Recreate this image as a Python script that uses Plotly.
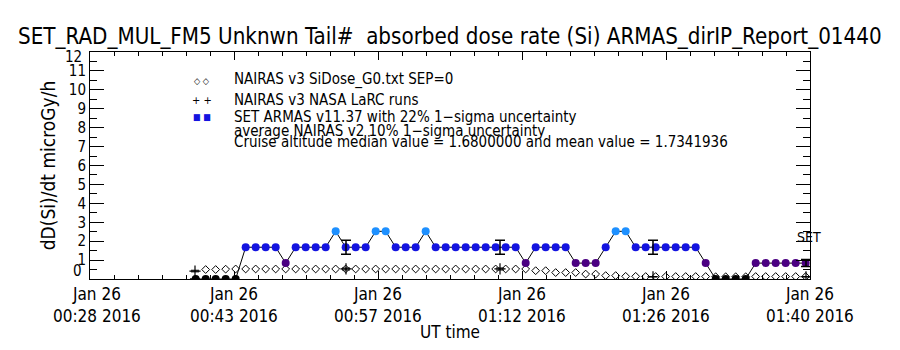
import plotly.graph_objects as go

FONT = "Liberation Sans Narrow, DejaVu Sans Condensed, Arial Narrow, sans-serif"

# ---------------- data ----------------
armas_times = [
    "00:39:24", "00:40:24", "00:41:24", "00:42:24", "00:43:24", "00:44:24", "00:45:24", "00:46:24",
    "00:47:24", "00:48:24", "00:49:24", "00:50:24", "00:51:24", "00:52:24", "00:53:24", "00:54:24",
    "00:55:24", "00:56:24", "00:57:24", "00:58:24", "00:59:24", "01:00:24", "01:01:24", "01:02:24",
    "01:03:24", "01:04:24", "01:05:24", "01:06:24", "01:07:24", "01:08:24", "01:09:24", "01:10:24",
    "01:11:24", "01:12:24", "01:13:24", "01:14:24", "01:15:24", "01:16:24", "01:17:24", "01:18:24",
    "01:19:24", "01:20:24", "01:21:24", "01:22:24", "01:23:24", "01:24:24", "01:25:24", "01:26:24",
    "01:27:24", "01:28:24", "01:29:24", "01:30:24", "01:31:24", "01:32:24", "01:33:24", "01:34:24",
    "01:35:24", "01:36:24", "01:37:24", "01:38:24", "01:39:24", "01:40:24",
]
armas_dose = [
    0, 0, 0, 0, 0, 1.68, 1.68, 1.68, 1.68, 0.84, 1.68, 1.68, 1.68, 1.68, 2.52, 1.68,
    1.68, 1.68, 2.52, 2.52, 1.68, 1.68, 1.68, 2.52, 1.68, 1.68, 1.68, 1.68, 1.68, 1.68, 1.68, 1.68,
    1.68, 0.84, 1.68, 1.68, 1.68, 1.68, 0.84, 0.84, 0.84, 1.68, 2.52, 2.52, 1.68, 1.68, 1.68, 1.68,
    1.68, 1.68, 1.68, 0.84, 0, 0, 0, 0, 0.84, 0.84, 0.84, 0.84, 0.84, 0.84,
]
# NAIRAS v3 SiDose_G0 (diamonds) at armas_times[1:]
nairas_v3 = [
    0.50, 0.50, 0.52, 0.53, 0.53, 0.53, 0.53, 0.53, 0.53, 0.53, 0.53, 0.53, 0.53, 0.53, 0.53, 0.53,
    0.53, 0.53, 0.53, 0.53, 0.53, 0.53, 0.53, 0.53, 0.53, 0.53, 0.53, 0.53, 0.53, 0.53, 0.53, 0.53,
    0.53, 0.44, 0.44, 0.34, 0.34, 0.34, 0.26, 0.26, 0.18, 0.18, 0.14, 0.14, 0.13, 0.13, 0.13, 0.13,
    0.13, 0.13, 0.13, 0.12, 0.12, 0.12, 0.12, 0.13, 0.13, 0.13, 0.13, 0.13, 0.13,
]
# NAIRAS v3 NASA LaRC runs (+) and ARMAS value at those times (error bars)
larc_times = ["00:39:20", "00:54:26", "01:09:50", "01:25:08", "01:40:26"]
larc_dose = [0.42, 0.53, 0.53, 0.12, 0.12]
armas_at_larc = [0, 1.68, 1.68, 1.68, 0.84]

x_tick_times = ["00:28:50", "00:43:14", "00:57:38", "01:12:02", "01:26:26", "01:40:50"]
x_tick_labels = ["Jan 26<br>00:28 2016", "Jan 26<br>00:43 2016", "Jan 26<br>00:57 2016",
                 "Jan 26<br>01:12 2016", "Jan 26<br>01:26 2016", "Jan 26<br>01:40 2016"]
y_ticks = list(range(0, 13))

DAY = "2016-01-26 "
def ts(t):
    return DAY + t

def color_for(v):
    if v >= 2.5:
        return "#1e90ff"
    if v >= 1.6:
        return "#1414e0"
    if v >= 0.8:
        return "#4b0082"
    return "#000000"

fig = go.Figure()

# NAIRAS diamonds
fig.add_trace(go.Scatter(
    x=[ts(t) for t in armas_times[1:]], y=nairas_v3, mode="markers",
    marker=dict(symbol="diamond-open", size=6, color="black", line=dict(width=1, color="black")),
    showlegend=False))

# LaRC runs with 10% uncertainty
fig.add_trace(go.Scatter(
    x=[ts(t) for t in larc_times], y=larc_dose, mode="markers",
    marker=dict(symbol="cross-thin", size=8, color="black", line=dict(width=1.2, color="black")),
    error_y=dict(type="percent", value=10, color="black", thickness=1, width=4),
    showlegend=False))

# ARMAS line + markers
fig.add_trace(go.Scatter(
    x=[ts(t) for t in armas_times], y=armas_dose, mode="lines+markers",
    line=dict(color="black", width=1),
    marker=dict(symbol="circle", size=8, color=[color_for(v) for v in armas_dose]),
    showlegend=False))

# ARMAS 22% error bars at LaRC times
fig.add_trace(go.Scatter(
    x=[ts(t) for t in larc_times], y=armas_at_larc, mode="markers",
    marker=dict(size=1, color="rgba(0,0,0,0)"),
    error_y=dict(type="percent", value=22, color="black", thickness=1.5, width=5),
    showlegend=False))

# ---------------- layout ----------------
L, R, T, B = 90, 810, 52, 279
W, H = R - L, B - T
def px(xp):
    return (xp - L) / W
def py(yp):
    return (B - yp) / H

ann = []
def text(x, y, s, size, anchor="left", color="black"):
    ann.append(dict(x=px(x), y=py(y), xref="paper", yref="paper", text=s, showarrow=False,
                    xanchor=anchor, yanchor="middle", font=dict(family=FONT, size=size, color=color)))

text(450, 36, "SET_RAD_MUL_FM5 Unknwn Tail#  absorbed dose rate (Si) ARMAS_dirIP_Report_01440", 22.2, "center")
text(202, 81, "\u25c7 \u25c7", 9, "center")
text(202, 100, "+ +", 11, "center")
text(202, 117, "\u25a0 \u25a0", 9, "center", "#1414e0")
text(232, 80, "NAIRAS v3 SiDose_G0.txt SEP=0", 15)
text(232, 100, "NAIRAS v3 NASA LaRC runs", 15)
text(232, 117, "SET ARMAS v11.37 with 22% 1\u2212sigma uncertainty", 15)
text(232, 131, "average NAIRAS v2 10% 1\u2212sigma uncertainty", 15)
text(232, 142, "Cruise altitude median value = 1.6800000 and mean value = 1.7341936", 15)
text(795, 237, "SET", 14)
text(450, 332, "UT time", 17, "center")

# x tick labels (two rows in one text)
for i, t in enumerate(x_tick_times):
    shift = 7 if i == 0 else 0
    ann.append(dict(x=ts(t), y=py(305), xref="x", yref="paper", text=x_tick_labels[i], showarrow=False,
                    xanchor="center", yanchor="middle", xshift=shift,
                    font=dict(family=FONT, size=17)))

# clamped end labels of y axis
ann.append(dict(x=0, y=py(270.5), xref="paper", yref="paper", text="0", showarrow=False,
                xanchor="right", xshift=-6, yanchor="middle", font=dict(family=FONT, size=15)))
ann.append(dict(x=0, y=py(57.5), xref="paper", yref="paper", text="12", showarrow=False,
                xanchor="right", xshift=-6, yanchor="middle", font=dict(family=FONT, size=15)))

fig.update_layout(
    width=900, height=350, margin=dict(l=L, r=900 - R, t=T, b=350 - B),
    paper_bgcolor="white", plot_bgcolor="white",
    font=dict(family=FONT, color="black"),
    annotations=ann,
    xaxis=dict(
        type="date", range=[ts("00:28:50"), ts("01:40:50")],
        tickmode="array", tickvals=[ts(t) for t in x_tick_times], showticklabels=False,
        ticks="inside", ticklen=8, tickcolor="black",
        showline=True, linecolor="black", linewidth=1, mirror="ticks", showgrid=False, zeroline=False,
        minor=dict(tickmode="linear", tick0=ts("00:28:50"), dtick=144000, ticks="inside",
                   ticklen=4, tickcolor="black", showgrid=False),
    ),
    yaxis=dict(
        range=[0, 12], tickmode="array", tickvals=y_ticks,
        ticktext=["" if v in (0, 12) else str(v) for v in y_ticks],
        tickfont=dict(family=FONT, size=15), ticks="inside", ticklen=14, tickcolor="black",
        showline=True, linecolor="black", linewidth=1, mirror="ticks", showgrid=False, zeroline=False,
        minor=dict(tickmode="linear", tick0=0, dtick=0.5, ticks="inside", ticklen=7,
                   tickcolor="black", showgrid=False),
        title=dict(text="dD(Si)/dt microGy/h", font=dict(family=FONT, size=19), standoff=8),
    ),
)

fig.write_html("out.html")
